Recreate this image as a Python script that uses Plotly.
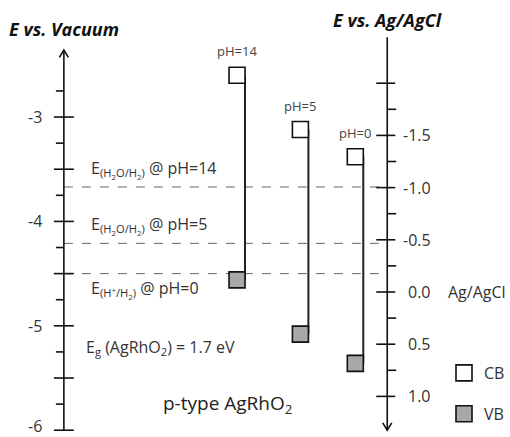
import numpy as np
import plotly.graph_objects as go

# Band edges of p-type AgRhO2 (eV vs. vacuum) at three pH values
ph_labels = ["pH=14", "pH=5", "pH=0"]
cb_vac = [-2.60, -3.12, -3.38]
vb_vac = [-4.56, -5.08, -5.36]

# Hydrogen evolution potentials (eV vs. vacuum)
redox_labels = [
    "E<sub>(H<sub>2</sub>O/H<sub>2</sub>)</sub> @ pH=14",
    "E<sub>(H<sub>2</sub>O/H<sub>2</sub>)</sub> @ pH=5",
    "E<sub>(H<sup>+</sup>/H<sub>2</sub>)</sub> @ pH=0",
]
redox_vac = [-3.67, -4.21, -4.50]

# Axis tick labels
vac_ticks = [-6, -5, -4, -3]
agcl_ticks = [-1.5, -1.0, -0.5, 0.0, 0.5, 1.0]
agcl_ticktext = ["-1.5", "-1.0", "-0.5", "0.0", "0.5", "1.0"]

# Vacuum level of 0 V vs. Ag/AgCl
AGCL_ZERO = -4.676

# Layout constants (x in plot units, 1 unit = 100 px)
X_LEFT = 0.64
X_RIGHT = 3.88
COLS = [2.375, 3.01, 3.56]
LINE_OFF = 0.08
FONT = "Open Sans, Noto Sans, sans-serif"
TXT = "#333333"
VB_GREY = "#a8a8a8"

fig = go.Figure()

# Connecting lines between band edges (along right edge of the squares)
lx, ly = [], []
for c, cb, vb in zip(COLS, cb_vac, vb_vac):
    lx += [c + LINE_OFF, c + LINE_OFF, None]
    ly += [cb, vb, None]
fig.add_trace(go.Scatter(x=lx, y=ly, mode="lines", line=dict(color="#222", width=2),
                         showlegend=False, hoverinfo="skip"))

fig.add_trace(go.Scatter(x=COLS, y=cb_vac, mode="markers", name="CB", legendgroup="cb",
                         marker=dict(symbol="square", size=16, color="white",
                                     line=dict(color="#111", width=1.6))))
fig.add_trace(go.Scatter(x=COLS, y=vb_vac, mode="markers", name="VB", legendgroup="vb",
                         marker=dict(symbol="square", size=16, color=VB_GREY,
                                     line=dict(color="#111", width=1.6))))

shapes = []
# Redox levels
for e in redox_vac:
    shapes.append(dict(type="line", xref="x", yref="y", x0=X_LEFT, x1=X_RIGHT, y0=e, y1=e,
                       line=dict(color="#666", width=1, dash="dash"), layer="below"))

# Left axis (vacuum scale), arrow pointing up
v_top = -2.358
shapes.append(dict(type="line", x0=X_LEFT, x1=X_LEFT, y0=-6.0, y1=v_top,
                   line=dict(color="#111", width=1.6)))
shapes.append(dict(type="path",
                   path=f"M {X_LEFT-0.045},{v_top-0.07} L {X_LEFT},{v_top} L {X_LEFT+0.045},{v_top-0.07}",
                   line=dict(color="#111", width=1.6)))
for t in np.arange(-6.0, -2.74, 0.25):
    major = abs(t * 2 - round(t * 2)) < 1e-9
    shapes.append(dict(type="line", x0=X_LEFT - (0.10 if major else 0.08),
                       x1=X_LEFT + (0.10 if major else 0.0), y0=t, y1=t,
                       line=dict(color="#111", width=1.6)))

# Right axis (Ag/AgCl scale, increasing downward), arrow pointing down
r_top = AGCL_ZERO + 2.44
r_bot = AGCL_ZERO - 1.324
shapes.append(dict(type="line", x0=X_RIGHT, x1=X_RIGHT, y0=r_top, y1=r_bot,
                   line=dict(color="#111", width=1.6)))
shapes.append(dict(type="path",
                   path=f"M {X_RIGHT-0.045},{r_bot+0.07} L {X_RIGHT},{r_bot} L {X_RIGHT+0.045},{r_bot+0.07}",
                   line=dict(color="#111", width=1.6)))
for v in np.arange(-2.0, 1.01, 0.25):
    major = abs(v * 2 - round(v * 2)) < 1e-9
    y = AGCL_ZERO - v
    shapes.append(dict(type="line", x0=X_RIGHT - (0.11 if major else 0.0),
                       x1=X_RIGHT + (0.08 if major else 0.09), y0=y, y1=y,
                       line=dict(color="#111", width=1.6)))

ann = []
for t in vac_ticks:
    ann.append(dict(x=0.44, y=t, text=str(t), xanchor="right", showarrow=False,
                    yshift=4 if t == -6 else 0, font=dict(size=16, color=TXT)))
for v, s in zip(agcl_ticks, agcl_ticktext):
    ann.append(dict(x=4.34, y=AGCL_ZERO - v, text=s, xanchor="right", showarrow=False,
                    font=dict(size=16, color=TXT)))
ann.append(dict(x=4.47, y=AGCL_ZERO, text="Ag/AgCl", xanchor="left", showarrow=False,
                font=dict(size=16, color=TXT)))

for c, cb, lab in zip(COLS, cb_vac, ph_labels):
    ann.append(dict(x=c, y=cb, text=lab, showarrow=False, yshift=24,
                    font=dict(size=13, color="#444")))

redox_text_y = [-3.50, -4.04, -4.65]
for e, lab, ty in zip(redox_vac, redox_labels, redox_text_y):
    ann.append(dict(x=0.89, y=ty, text=lab, xanchor="left", showarrow=False,
                    font=dict(size=16, color=TXT)))
ann.append(dict(x=0.84, y=-5.21, xanchor="left", showarrow=False,
                text="E<sub>g</sub> (AgRhO<sub>2</sub>) = 1.7 eV", font=dict(size=16, color=TXT)))
ann.append(dict(x=1.61, y=-5.75, xanchor="left", showarrow=False,
                text="p-type AgRhO<sub>2</sub>", font=dict(size=19, color="#222")))

ann.append(dict(x=0.07, y=1 - 29 / 437, xref="x", yref="paper", xanchor="left",
                yanchor="middle", showarrow=False,
                text="<b><i>E vs. Vacuum</i></b>", font=dict(size=18, color="#111")))
ann.append(dict(x=3.32, y=1 - 20 / 437, xref="x", yref="paper", xanchor="left",
                yanchor="middle", showarrow=False,
                text="<b><i>E vs. Ag/AgCl</i></b>", font=dict(size=18, color="#111")))

fig.update_layout(
    width=510, height=437,
    margin=dict(l=0, r=0, t=0, b=0),
    paper_bgcolor="white", plot_bgcolor="white",
    font=dict(family=FONT, color=TXT),
    xaxis=dict(range=[0, 5.1], visible=False, fixedrange=True),
    yaxis=dict(range=[-6.065, -1.879], visible=False, fixedrange=True),
    shapes=shapes, annotations=ann,
    showlegend=True,
    legend=dict(x=445 / 510, y=1 - 356 / 437, xanchor="left", yanchor="top",
                bgcolor="rgba(0,0,0,0)", font=dict(size=16, color=TXT),
                traceorder="grouped", tracegroupgap=17),
)

fig.write_html("out.html")
